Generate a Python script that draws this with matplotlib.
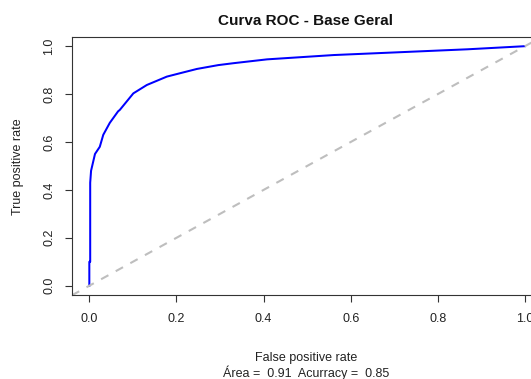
import matplotlib
matplotlib.use("Agg")
import matplotlib.pyplot as plt

plt.rcParams['font.family'] = ['Liberation Sans', 'DejaVu Sans']

# ROC curve points
fpr = [0.0, 0.0, 0.002, 0.002, 0.004, 0.013, 0.024, 0.032, 0.047, 0.066,
       0.070, 0.101, 0.132, 0.178, 0.208, 0.247, 0.296, 0.331, 0.408,
       0.561, 0.715, 0.868, 1.0]
tpr = [0.0, 0.10, 0.10, 0.43, 0.48, 0.55, 0.58, 0.63, 0.68, 0.728,
       0.734, 0.803, 0.838, 0.873, 0.887, 0.905, 0.921, 0.929, 0.945,
       0.963, 0.975, 0.987, 1.0]
ticks = [0.0, 0.2, 0.4, 0.6, 0.8, 1.0]
tick_labels = ['0.0', '0.2', '0.4', '0.6', '0.8', '1.0']
area = 0.91
accuracy = 0.85

W, H = 531, 379
fig = plt.figure(figsize=(W / 100, H / 100), dpi=100)
ax = fig.add_axes([71.9 / W, (H - 295.3) / H, (542.4 - 71.9) / W, (295.3 - 36.6) / H])

ax.plot(fpr, tpr, color='#0000FF', lw=1.45, solid_joinstyle='round')
ax.axline((0, 0), slope=1, color='#BEBEBE', lw=1.5, dashes=(4, 4))

ax.set_xlim(-0.04, 1.04)
ax.set_ylim(-0.04, 1.04)
ax.set_xticks(ticks)
ax.set_xticklabels(tick_labels)
ax.set_yticks(ticks)
ax.set_yticklabels(tick_labels, rotation=90, va='center')
ax.tick_params(length=5, width=0.8, color='#333333', labelsize=9,
               labelcolor='#222222')
ax.tick_params(axis='x', pad=8)
ax.tick_params(axis='y', pad=7)
for s in ax.spines.values():
    s.set_color('#333333')
    s.set_linewidth(0.8)

fig.text(306 / W, 1 - 21 / H, 'Curva ROC - Base Geral', ha='center', va='center',
         fontsize=11, fontweight='bold', color='#111111')
fig.text(306 / W, 1 - 358 / H, 'False positive rate', ha='center', va='center',
         fontsize=9, color='#222222')
fig.text(306 / W, 1 - 373 / H, f'Área =  {area}  Acurracy =  {accuracy}',
         ha='center', va='center', fontsize=9, color='#222222')
fig.text(18.3 / W, 1 - 166.5 / H, 'True positive rate', ha='center', va='center',
         rotation=90, fontsize=9, color='#222222')

fig.savefig('out.png', dpi=100)
